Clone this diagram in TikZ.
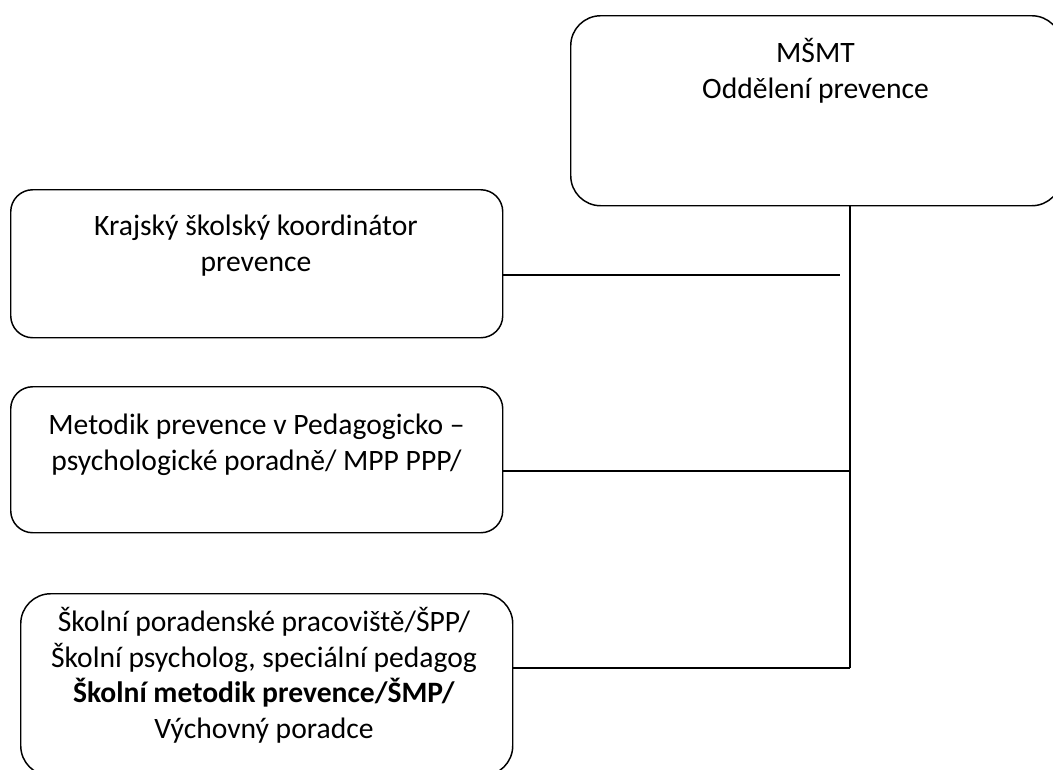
\documentclass[tikz,border=0pt]{standalone}
\usepackage{fontspec}
\setmainfont{Carlito}
\begin{document}
\begin{tikzpicture}[x=0.75pt,y=-0.75pt,
  box/.style={draw, line width=1.1pt, rounded corners=16.5pt, anchor=north west, inner sep=0pt},
  bigbox/.style={box, rounded corners=22.5pt},
  lbl/.style={align=center, anchor=base, inner sep=0pt, font=\fontsize{22.2pt}{26.7pt}\selectfont},
  link/.style={line width=1.1pt}]
\useasboundingbox (0,0) rectangle (1053,769);
\clip (0,0) rectangle (1053,769);
% boxes
\node[bigbox, minimum width=368.25pt, minimum height=142.5pt] (msmt) at (570,15) {};
\node[box, minimum width=369pt, minimum height=111pt] (kraj) at (10,189) {};
\node[box, minimum width=369pt, minimum height=109.5pt] (met) at (10,386) {};
\node[bigbox, minimum width=369pt, minimum height=136.5pt] (skol) at (20,593) {};
% texts (anchor base = last line baseline)
\node[lbl] (tmsmt) at (815.5,98.3) {MŠMT\\Oddělení prevence};
\node[lbl] (tkraj) at (256,271) {Krajský školský koordinátor\\prevence};
\node[lbl] (tmet) at (256.5,470) {Metodik prevence v Pedagogicko –\\psychologické poradně/ MPP PPP/};
\node[lbl] (tskol) at (264,738.5) {Školní poradenské pracoviště/ŠPP/\\Školní psycholog, speciální pedagog\\\textbf{Školní metodik prevence/ŠMP/}\\Výchovný poradce};
% connectors
\coordinate (kend) at (840,275);
\coordinate (j2) at (850,471);
\coordinate (j3) at (850,668);
\draw[link] (kraj.east |- kend) -- (kend);
\draw[link] (met.east |- j2) -- (j2);
\draw[link] (skol.east |- j3) -- (j3);
\draw[link] (msmt.south -| j3) -- (j3);
\end{tikzpicture}
\end{document}
